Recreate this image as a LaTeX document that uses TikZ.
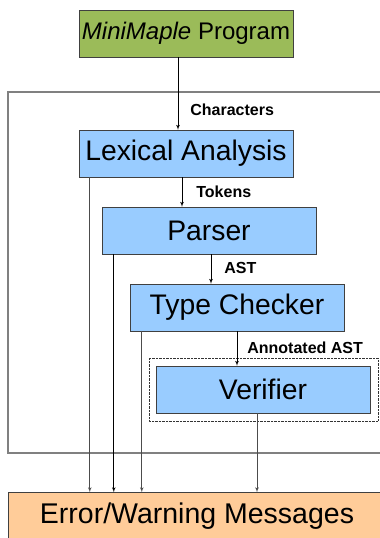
\documentclass[tikz,border=0pt]{standalone}
\usepackage{fontspec}
\setmainfont{Liberation Sans}
\usetikzlibrary{arrows}

\definecolor{progGreen}{HTML}{9BBB59}
\definecolor{stageBlue}{HTML}{99CCFF}
\definecolor{msgPeach}{HTML}{FFCC99}

\begin{document}
\begin{tikzpicture}[x=1pt, y=-1pt,
    block_prog/.style ={rectangle, draw=black!75, fill=progGreen,
      minimum width=214pt, minimum height=47pt, inner sep=0pt,
      font=\fontsize{24}{26}\selectfont},
    block_stage/.style ={rectangle, draw=black!75, fill=stageBlue,
      minimum width=214pt, minimum height=47pt, inner sep=0pt,
      font=\fontsize{28.3}{30}\selectfont},
    block_msg/.style ={rectangle, draw=black!75, fill=msgPeach,
      minimum width=378pt, minimum height=47pt, inner sep=0pt,
      font=\fontsize{28.5}{30}\selectfont},
    lbl/.style ={anchor=west, inner sep=0pt, font=\fontsize{16}{18}\selectfont\bfseries},
    line/.style ={draw, line width=0.7pt, -latex', shorten >=0pt}]
    \useasboundingbox (0,0) rectangle (380,538);
    \clip (0,0) rectangle (380,538);
    % frame round the analysis stages (its right side lies off the page)
    \draw[black!50, line width=1.5pt] (8,92) rectangle (400,453);
    % stages
    \node [block_prog] (prog) at (186,33.5) {\textit{MiniMaple} Program};
    \node [block_stage] (lex) at (186,153.5) {Lexical Analysis};
    \node [block_stage] (parser) at (209,230.5) {Parser};
    \node [block_stage] (tc) at (237,307.5) {Type Checker};
    \draw[densely dotted, black!80] (149,358) rectangle (378,421);
    \node [block_stage] (ver) at (263,389.5) {Verifier};
    \node [block_msg] (err) at (197,516) {Error/Warning Messages};
    % connecting nodes with paths
    \begin{scope}[every path/.style=line]
      % main data flow
      \path ([xshift=-8pt]prog.south) -- node[lbl, pos=0.73, xshift=12pt] {Characters}
        ([xshift=-8pt]lex.north);
      \path ([xshift=-4pt]lex.south) -- node[lbl, pos=0.5, xshift=14pt] {Tokens}
        ([xshift=-4pt]lex.south |- parser.north);
      \path ([xshift=2pt]parser.south) -- node[lbl, pos=0.47, xshift=13pt] {AST}
        ([xshift=2pt]parser.south |- tc.north);
      \path (tc.south) -- node[lbl, pos=0.49, xshift=10pt] {Annotated AST}
        (tc.south |- ver.north);
      % paths to error messages
      \path[black!70] ([xshift=11pt]lex.south west) -- ([xshift=11pt]lex.south west |- err.north);
      \path ([xshift=12pt]parser.south west) -- ([xshift=12pt]parser.south west |- err.north);
      \path[black!70] ([xshift=12pt]tc.south west) -- ([xshift=12pt]tc.south west |- err.north);
      \path[black!70] ([xshift=-6pt]ver.south) -- ([xshift=-6pt]ver.south |- err.north);
    \end{scope}
  \end{tikzpicture}
\end{document}
